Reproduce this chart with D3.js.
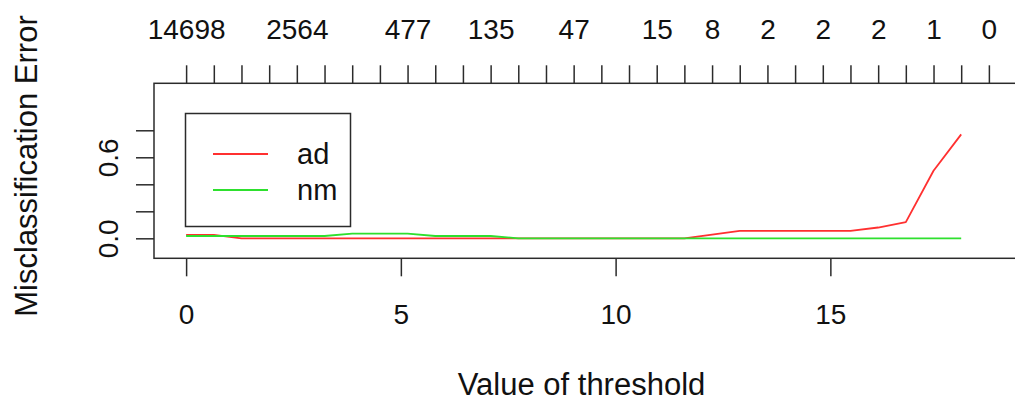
<!DOCTYPE html>
<html>
<head>
<meta charset="utf-8">
<script src="https://cdn.jsdelivr.net/npm/d3@7"></script>
<style>
  html, body { margin: 0; padding: 0; background: #fff; }
  svg { display: block; font-family: "Liberation Sans", Arial, sans-serif; }
</style>
</head>
<body>
<svg id="chart" width="1015" height="407"></svg>
<script>
// Threshold grid used by the cross-validation
const thresholds = [0, 0.645, 1.289, 1.934, 2.578, 3.223, 3.867, 4.512, 5.156, 5.801,
  6.445, 7.090, 7.734, 8.379, 9.023, 9.668, 10.312, 10.957, 11.601, 12.246,
  12.890, 13.535, 14.179, 14.824, 15.468, 16.113, 16.757, 17.402, 18.046, 18.691];

// Number of genes kept at each threshold (only non-overlapping labels are printed)
const geneCounts = ["14698", "", "", "", "2564", "", "", "", "477", "", "", "135", "", "", "47",
  "", "", "15", "", "8", "", "2", "", "2", "", "2", "", "1", "", "0"];

// Per-class misclassification error (one value per threshold, last threshold excluded)
const classNames = ["ad", "nm"];
const errAd = [0.025, 0.025, 0, 0, 0, 0, 0, 0, 0, 0, 0, 0, 0, 0, 0, 0, 0, 0, 0, 0.028,
  0.055, 0.055, 0.055, 0.055, 0.055, 0.08, 0.12, 0.50, 0.77];
const errNm = [0.017, 0.017, 0.017, 0.017, 0.017, 0.017, 0.035, 0.035, 0.035, 0.017,
  0.017, 0.017, 0, 0, 0, 0, 0, 0, 0, 0, 0, 0, 0, 0, 0, 0, 0, 0, 0];
const seriesColors = ["#ff3030", "#2ee02e"];

const yTicks = [0, 0.2, 0.4, 0.6, 0.8];
const yTickLabels = ["0.0", "", "", "0.6", ""];
const xTicks = [0, 5, 10, 15];

const svg = d3.select("#chart");
svg.append("rect").attr("width", 1015).attr("height", 407).attr("fill", "#fff");

const plot = { left: 154, right: 1021, top: 83.3, bottom: 258.3 };
const tmax = d3.max(thresholds);
const pad = 0.04 * tmax;
const x = d3.scaleLinear().domain([-pad, tmax + pad]).range([plot.left, plot.right]);
const yLo = -0.1, yHi = 1.1, yPad = 0.04 * (yHi - yLo);
const y = d3.scaleLinear().domain([yLo - yPad, yHi + yPad]).range([plot.bottom, plot.top]);

const ink = "#2b2b2b";
const fontSize = 28;

// bottom axis
const gx = svg.append("g").attr("transform", `translate(0,${plot.bottom})`)
  .call(d3.axisBottom(x).tickValues(xTicks).tickFormat(d3.format("d")).tickSize(18).tickPadding(28));
// top axis: number of genes
const gt = svg.append("g").attr("transform", `translate(0,${plot.top})`)
  .call(d3.axisTop(x).tickValues(thresholds).tickFormat((d, i) => geneCounts[i]).tickSize(18).tickPadding(26));
// left axis
const gy = svg.append("g").attr("transform", `translate(${plot.left},0)`)
  .call(d3.axisLeft(y).tickValues(yTicks).tickFormat((d, i) => yTickLabels[i]).tickSize(18).tickPadding(26));

[gx, gt, gy].forEach(g => {
  g.select(".domain").remove();
  g.selectAll(".tick line").attr("stroke", ink).attr("stroke-width", 1.5);
  g.selectAll(".tick text").attr("fill", "#111").attr("font-size", fontSize)
    .attr("font-family", "Liberation Sans, Arial, sans-serif");
});
gy.selectAll(".tick text")
  .attr("text-anchor", "middle")
  .attr("x", null)
  .attr("transform", "translate(-46,0) rotate(-90)")
  .attr("dy", "0.35em");

// plot frame
svg.append("rect")
  .attr("x", plot.left).attr("y", plot.top)
  .attr("width", plot.right - plot.left).attr("height", plot.bottom - plot.top)
  .attr("fill", "none").attr("stroke", ink).attr("stroke-width", 1.5);

// error lines
const series = [errAd, errNm];
const line = d3.line().x((d, i) => x(thresholds[i])).y(d => y(d));
series.forEach((s, k) => {
  svg.append("path").datum(s)
    .attr("d", line)
    .attr("fill", "none")
    .attr("stroke", seriesColors[k])
    .attr("stroke-width", 1.8)
    .attr("stroke-linejoin", "round");
});

// legend
const lg = svg.append("g");
lg.append("rect").attr("x", 185.5).attr("y", 113.5).attr("width", 165).attr("height", 113)
  .attr("fill", "#fff").attr("stroke", ink).attr("stroke-width", 1.5);
classNames.forEach((name, k) => {
  const ly = 154 + k * 36;
  lg.append("line").attr("x1", 213).attr("x2", 268).attr("y1", ly).attr("y2", ly)
    .attr("stroke", seriesColors[k]).attr("stroke-width", 1.8);
  lg.append("text").attr("x", 297).attr("y", ly).attr("dy", "0.35em")
    .attr("font-size", 29).attr("fill", "#111").text(name);
});

// axis titles
svg.append("text").attr("x", (plot.left + 1015) / 2 - 3).attr("y", 395)
  .attr("text-anchor", "middle").attr("font-size", 31).attr("fill", "#111")
  .text("Value of threshold");
svg.append("text")
  .attr("transform", `translate(37,166) rotate(-90)`)
  .attr("text-anchor", "middle").attr("font-size", 31).attr("fill", "#111")
  .text("Misclassification Error");
</script>
</body>
</html>
